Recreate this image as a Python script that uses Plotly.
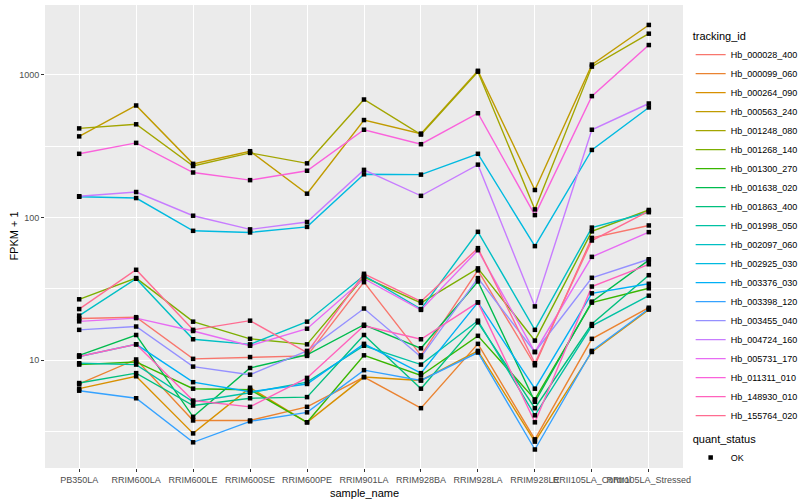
import plotly.graph_objects as go

samples = ["PB350LA", "RRIM600LA", "RRIM600LE", "RRIM600SE", "RRIM600PE", "RRIM901LA",
           "RRIM928BA", "RRIM928LA", "RRIM928LE", "RRII105LA_Control", "RRII105LA_Stressed"]

Hb_000028_400 = [19.6, 20.0, 10.2, 10.5, 10.7, 35.2, 10.8, 42.6, 9.2, 72, 88]
Hb_000099_060 = [6.8, 10.1, 3.77, 3.77, 4.7, 7.6, 4.6, 13.0, 2.78, 14.1, 23.3]
Hb_000264_090 = [6.3, 7.7, 3.06, 6.4, 3.66, 7.6, 7.2, 11.6, 2.68, 11.4, 22.6]
Hb_000563_240 = [371, 611, 238, 292, 147, 483, 388, 1070, 156, 1183, 2244]
Hb_001248_080 = [422, 451, 230, 284, 240, 673, 382, 1055, 114, 1145, 1949]
Hb_001268_140 = [26.7, 37.6, 18.6, 14.1, 12.9, 38.2, 25.2, 44, 13.7, 80, 113]
Hb_001300_270 = [9.3, 9.7, 6.3, 6.2, 3.66, 10.8, 7.8, 14.8, 5.3, 25.3, 31.9]
Hb_001638_020 = [10.8, 15.0, 4.0, 8.8, 10.9, 17.7, 12.1, 35.6, 5.1, 25.7, 50.3]
Hb_001863_400 = [6.9, 8.1, 4.8, 5.4, 5.5, 15.0, 6.3, 18.4, 4.6, 17.9, 39.4]
Hb_001998_050 = [9.5, 9.3, 5.1, 5.9, 7.0, 12.6, 9.3, 18.9, 4.1, 17.4, 28.3]
Hb_002097_060 = [20.5, 37.2, 14.0, 12.9, 18.6, 39.2, 22.8, 79.4, 16.3, 85, 109]
Hb_002925_030 = [140, 137, 80.7, 78.6, 86, 201, 200, 280, 63, 298, 592]
Hb_003376_030 = [10.6, 12.9, 7.0, 6.0, 6.8, 13.0, 8.1, 25.4, 6.3, 29.4, 34.3]
Hb_003398_120 = [6.1, 5.4, 2.65, 3.72, 4.3, 8.5, 7.2, 11.3, 2.36, 11.6, 22.9]
Hb_003455_040 = [16.3, 17.2, 9.0, 7.9, 11.6, 23.0, 10.5, 37.6, 11.4, 37.8, 51]
Hb_004724_160 = [141, 151, 103, 82.6, 93, 216, 142, 235, 23.8, 413, 631]
Hb_005731_170 = [18.7, 19.7, 16.0, 12.6, 16.6, 37.2, 22.5, 59, 11.4, 53, 79]
Hb_011311_010 = [280, 334, 207, 183, 213, 413, 327, 539, 104, 711, 1622]
Hb_148930_010 = [10.6, 12.9, 5.2, 4.7, 7.5, 17.4, 14.0, 25.4, 3.66, 32.8, 47]
Hb_155764_020 = [22.8, 43, 16.3, 18.9, 11.3, 40.3, 25.8, 61, 9.5, 69, 111]

tracking_ids = ["Hb_000028_400", "Hb_000099_060", "Hb_000264_090", "Hb_000563_240",
                "Hb_001248_080", "Hb_001268_140", "Hb_001300_270", "Hb_001638_020",
                "Hb_001863_400", "Hb_001998_050", "Hb_002097_060", "Hb_002925_030",
                "Hb_003376_030", "Hb_003398_120", "Hb_003455_040", "Hb_004724_160",
                "Hb_005731_170", "Hb_011311_010", "Hb_148930_010", "Hb_155764_020"]
series = [Hb_000028_400, Hb_000099_060, Hb_000264_090, Hb_000563_240, Hb_001248_080,
          Hb_001268_140, Hb_001300_270, Hb_001638_020, Hb_001863_400, Hb_001998_050,
          Hb_002097_060, Hb_002925_030, Hb_003376_030, Hb_003398_120, Hb_003455_040,
          Hb_004724_160, Hb_005731_170, Hb_011311_010, Hb_148930_010, Hb_155764_020]
colors = ["#F8766D", "#EA8331", "#D89000", "#C09B00", "#A3A500", "#7CAE00", "#39B600",
          "#00BB4E", "#00BF7D", "#00C1A3", "#00BFC4", "#00BAE0", "#00B0F6", "#35A2FF",
          "#9590FF", "#C77CFF", "#E76BF3", "#FA62DB", "#FF62BC", "#FF6C91"]

FONT = "Liberation Sans, Arial, sans-serif"

fig = go.Figure()
for name, vals, col in zip(tracking_ids, series, colors):
    fig.add_trace(go.Scatter(x=samples, y=vals, mode="lines", name=name,
                             line=dict(color=col, width=1.4), legend="legend"))

all_x = [s for vals in series for s in samples]
all_y = [v for vals in series for v in vals]
fig.add_trace(go.Scatter(x=all_x, y=all_y, mode="markers", name="OK",
                         marker=dict(symbol="square", size=4.5, color="black"),
                         legend="legend2"))

fig.update_layout(
    width=800, height=500,
    margin=dict(l=45, r=117, t=5, b=32, autoexpand=False),
    paper_bgcolor="white", plot_bgcolor="#EBEBEB",
    font=dict(family=FONT, size=9, color="black"),
    legend=dict(title=dict(text="tracking_id", font=dict(size=11)),
                x=1.012, xanchor="left", y=0.955, yanchor="top",
                font=dict(size=9), bgcolor="rgba(0,0,0,0)", itemwidth=30,
                tracegroupgap=0),
    legend2=dict(title=dict(text="quant_status", font=dict(size=11)),
                 x=1.012, xanchor="left", y=0.085, yanchor="top",
                 font=dict(size=9), bgcolor="rgba(0,0,0,0)", itemwidth=30),
    showlegend=True,
    annotations=[
        dict(text="sample_name", xref="paper", yref="paper", x=0.5, y=-0.054,
             xanchor="center", yanchor="middle", showarrow=False,
             font=dict(size=11, color="black")),
        dict(text="FPKM + 1", xref="paper", yref="paper", x=-0.05, y=0.5,
             xanchor="center", yanchor="middle", textangle=-90, showarrow=False,
             font=dict(size=11, color="black")),
    ],
)
fig.update_xaxes(type="category", categoryorder="array", categoryarray=samples,
                 range=[-0.6, len(samples) - 0.4], tickangle=0, automargin=False,
                 showgrid=True, gridcolor="white", gridwidth=1.4,
                 ticks="outside", ticklen=3, tickcolor="#333333", tickwidth=1,
                 tickfont=dict(size=9, color="#4D4D4D"),
                 zeroline=False, showline=False)
fig.update_yaxes(type="log", range=[0.243, 3.491], automargin=False,
                 tickvals=[10, 100, 1000], ticktext=["10", "100", "1000"],
                 showgrid=True, gridcolor="white", gridwidth=1.4,
                 minor=dict(tickvals=[3.1623, 31.623, 316.23], showgrid=True,
                            gridcolor="white", gridwidth=0.7, ticks=""),
                 ticks="outside", ticklen=3, tickcolor="#333333", tickwidth=1,
                 tickfont=dict(size=9, color="#4D4D4D"),
                 zeroline=False, showline=False)

fig.write_html("out.html", config={"displayModeBar": False},
               post_script="document.body.style.margin='0px';")
